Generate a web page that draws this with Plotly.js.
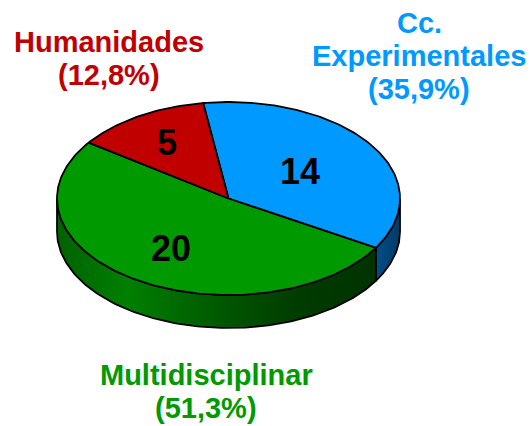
<!DOCTYPE html>
<html>
<head>
<meta charset="utf-8">
<script src="https://cdn.plot.ly/plotly-3.0.1.min.js"></script>
<style>
  body { margin: 0; background: #fff; }
  #pie3d { width: 530px; height: 426px; }
</style>
</head>
<body>
<div id="pie3d"></div>
<script>
// data
var categories = ["Cc.<br>Experimentales", "Multidisciplinar", "Humanidades"];
var counts = [14, 20, 5];
var topColors = ["#0099ff", "#009900", "#c00000"];
var labelColors = ["#0099ff", "#009900", "#c00000"];
var sideScales = [
  [[0, "#004f88"], [1, "#003a66"]],
  [[0, "#006200"], [0.22, "#007f00"], [0.5, "#005a00"], [0.75, "#003c00"], [1, "#003200"]],
  [[0, "#800000"], [1, "#600000"]]
];

// drawing geometry (pixels, y down)
var cx = 228.5, cy = 198.5, rx = 171.5, ry = 96.5, depth = 33;
var startAngle = 98.5;            // first slice starts here, goes clockwise
var innerRadius = [0.5, 0.62, 0.68];
var outerLabelPos = [[419, 23], [206, 375], [109, 42]];
var lineGap = 33;

function arc(from, to, drop) {
  var xs = [], ys = [];
  var n = Math.max(2, Math.ceil(Math.abs(to - from)));
  for (var k = 0; k <= n; k++) {
    var t = (from + (to - from) * k / n) * Math.PI / 180;
    xs.push(cx + rx * Math.cos(t));
    ys.push(cy - ry * Math.sin(t) + drop);
  }
  return [xs, ys];
}

var total = counts.reduce(function (a, b) { return a + b; }, 0);
var sideTraces = [], faceTraces = [], annotations = [];
var acc = 0;

for (var i = 0; i < counts.length; i++) {
  var span = counts[i] / total * 360;
  var t0 = startAngle - acc;
  var t1 = t0 - span;
  acc += span;

  // top face
  var face = arc(t0, t1, 0);
  faceTraces.push({
    type: "scatter", mode: "lines",
    x: [cx].concat(face[0], [cx]),
    y: [cy].concat(face[1], [cy]),
    fill: "toself", fillcolor: topColors[i],
    line: { color: "#000", width: 1.8 },
    hoverinfo: "skip", showlegend: false
  });

  // visible part of the side wall (front half of ellipse)
  var a = ((t1 % 360) + 360) % 360;
  var b = a + span;
  [[180, 360], [540, 720]].forEach(function (w) {
    var lo = Math.max(a, w[0]), hi = Math.min(b, w[1]);
    if (hi - lo < 0.01) return;
    var up = arc(lo, hi, 0), dn = arc(hi, lo, depth);
    var xs = up[0].concat(dn[0], [up[0][0]]);
    var ys = up[1].concat(dn[1], [up[1][0]]);
    sideTraces.push({
      type: "scatter", mode: "lines",
      x: xs, y: ys,
      fill: "toself", fillcolor: sideScales[i][0][1],
      fillgradient: { type: "horizontal", colorscale: sideScales[i] },
      line: { color: "#000", width: 1.8 },
      hoverinfo: "skip", showlegend: false
    });
  });

  // value inside slice
  var mid = (t0 + t1) / 2 * Math.PI / 180;
  annotations.push({
    x: cx + innerRadius[i] * rx * Math.cos(mid),
    y: cy - innerRadius[i] * ry * Math.sin(mid),
    text: String(counts[i]), showarrow: false,
    xanchor: "center", yanchor: "middle",
    font: { family: "Liberation Sans, Arial, sans-serif", size: 36, color: "#000", weight: "bold" }
  });

  // outer name + percentage, one annotation per line
  var pct = (counts[i] / total * 100).toFixed(1).replace(".", ",");
  var lines = categories[i].split("<br>").concat(["(" + pct + "%)"]);
  lines.forEach(function (ln, j) {
    annotations.push({
      x: outerLabelPos[i][0], y: outerLabelPos[i][1] + j * lineGap,
      text: ln, showarrow: false,
      xanchor: "center", yanchor: "middle",
      font: { family: "Liberation Sans, Arial, sans-serif", size: 29, color: labelColors[i], weight: "bold" }
    });
  });
}

Plotly.newPlot("pie3d", sideTraces.concat(faceTraces), {
  width: 530, height: 426,
  margin: { l: 0, r: 0, t: 0, b: 0 },
  paper_bgcolor: "#fff", plot_bgcolor: "#fff",
  showlegend: false,
  xaxis: { range: [0, 530], visible: false, fixedrange: true },
  yaxis: { range: [426, 0], visible: false, fixedrange: true },
  annotations: annotations
}, { displayModeBar: false, staticPlot: true });
</script>
</body>
</html>
